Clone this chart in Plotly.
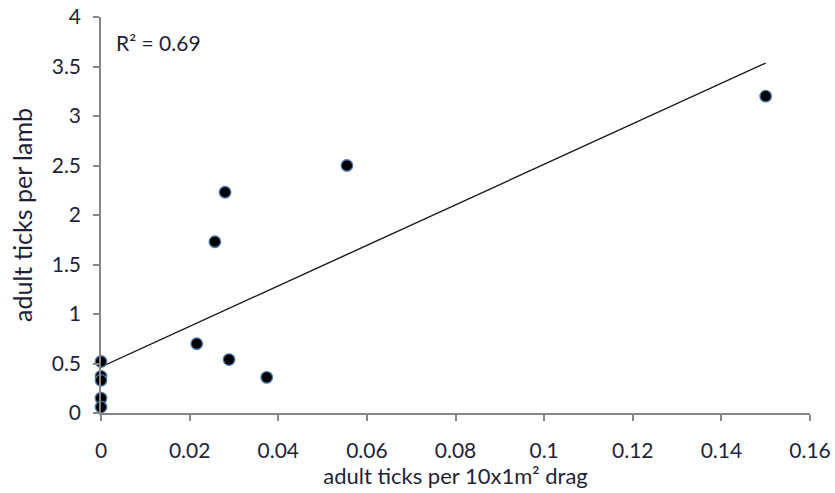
import numpy as np
import plotly.graph_objects as go

# data
drag_ticks = [0.150, 0.0555, 0.028, 0.0257, 0.0216, 0.0289, 0.0374, 0, 0, 0, 0, 0]
lamb_ticks = [3.2, 2.5, 2.23, 1.73, 0.70, 0.54, 0.36, 0.52, 0.37, 0.33, 0.15, 0.06]
x_ticks = [0, 0.02, 0.04, 0.06, 0.08, 0.1, 0.12, 0.14, 0.16]
x_tick_labels = ["0", "0.02", "0.04", "0.06", "0.08", "0.1", "0.12", "0.14", "0.16"]
y_ticks = [0, 0.5, 1, 1.5, 2, 2.5, 3, 3.5, 4]
y_tick_labels = ["0", "0.5", "1", "1.5", "2", "2.5", "3", "3.5", "4"]
r2_text = "R² = 0.69"

xa = np.array(drag_ticks)
ya = np.array(lamb_ticks)
slope, intercept = np.polyfit(xa, ya, 1)
line_x = [xa.min(), xa.max()]
line_y = [intercept + slope * v for v in line_x]

font = "Lato, 'Open Sans', sans-serif"
axis_col = "#868686"
txt = "#1f1f3a"

fig = go.Figure()
fig.add_trace(go.Scatter(x=line_x, y=line_y, mode="lines",
                         line=dict(color="#1a1a1a", width=1.4),
                         hoverinfo="skip", showlegend=False))
fig.add_trace(go.Scatter(x=drag_ticks, y=lamb_ticks, mode="markers",
                         marker=dict(color="black", size=11.5,
                                     line=dict(color="#4a78b0", width=1.3)),
                         cliponaxis=False, showlegend=False))

fig.update_layout(
    width=835, height=493,
    margin=dict(l=101, r=25, t=17, b=80),
    paper_bgcolor="white", plot_bgcolor="white",
    font=dict(family=font, size=21, color=txt),
    xaxis=dict(range=[0, 0.16], tickvals=x_ticks, ticktext=x_tick_labels,
               automargin=False,
               showgrid=False, zeroline=False, showline=True, linecolor=axis_col,
               linewidth=1.5, ticks="outside", ticklen=6, tickcolor=axis_col,
               tickwidth=1.5, tickfont=dict(size=21, color=txt),
               ticklabelstandoff=12,
               title=dict(text="adult ticks per 10x1m² drag",
                          font=dict(size=22, color=txt), standoff=0)),
    yaxis=dict(range=[0, 4], tickvals=y_ticks, ticktext=y_tick_labels,
               automargin=False,
               showgrid=False, zeroline=False, showline=True, linecolor=axis_col,
               linewidth=1.5, ticks="outside", ticklen=6, tickcolor=axis_col,
               tickwidth=1.5, tickfont=dict(size=21, color=txt),
               ticklabelstandoff=8,
               title=dict(text="adult ticks per lamb",
                          font=dict(size=25, color=txt), standoff=12)),
    annotations=[dict(x=0.003, y=3.74, xref="x", yref="y", text=r2_text,
                      showarrow=False, xanchor="left", yanchor="middle",
                      font=dict(size=21, color=txt))],
)

fig.write_html("out.html")
